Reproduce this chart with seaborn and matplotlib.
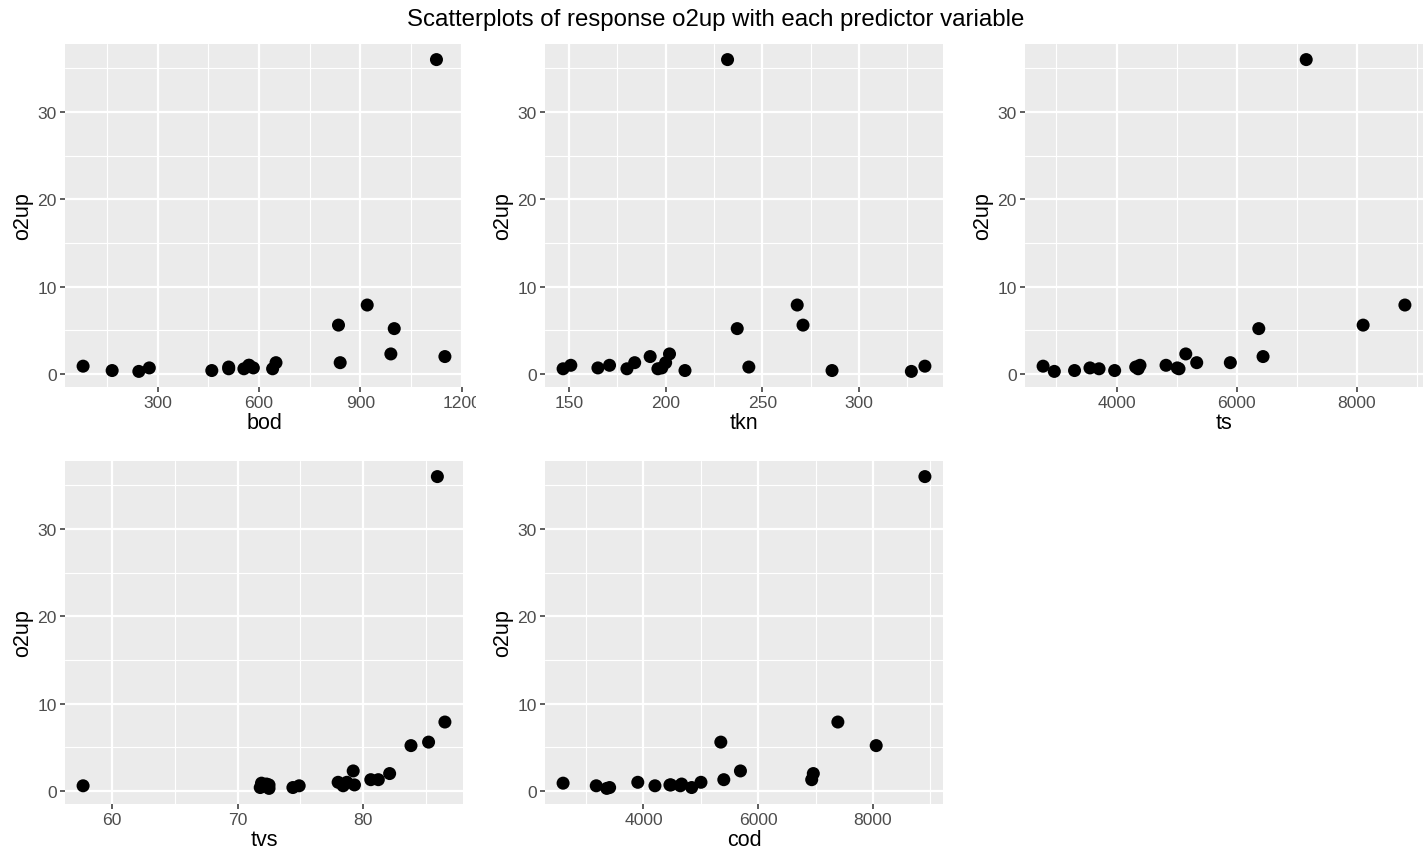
import pandas as pd
import seaborn as sns
import matplotlib.pyplot as plt
from matplotlib.transforms import Bbox, TransformedBbox

# oxygen uptake data
bod = [1125, 920, 835, 1000, 1150, 990, 840, 650, 640, 583,
       570, 570, 510, 555, 460, 275, 510, 165, 244, 79]
tkn = [232, 268, 271, 237, 192, 202, 184, 200, 180, 165,
       151, 171, 243, 147, 286, 198, 196, 210, 327, 334]
ts = [7160, 8804, 8108, 6370, 6441, 5154, 5896, 5336, 5041, 5012,
      4825, 4391, 4320, 3709, 3969, 3558, 4361, 3301, 2964, 2777]
tvs = [85.9, 86.5, 85.2, 83.8, 82.1, 79.2, 81.2, 80.6, 78.4, 79.3,
       78.7, 78.0, 72.3, 74.9, 74.4, 72.5, 57.7, 71.8, 72.5, 71.9]
cod = [8905, 7388, 5348, 8056, 6960, 5690, 6932, 5400, 3177, 4461,
       3901, 5002, 4665, 4642, 4840, 4479, 4200, 3410, 3360, 2599]
o2up = [36.0, 7.9, 5.6, 5.2, 2.0, 2.3, 1.3, 1.3, 0.6, 0.7,
        1.0, 1.0, 0.8, 0.6, 0.4, 0.7, 0.6, 0.4, 0.3, 0.9]

df = pd.DataFrame({'bod': bod, 'tkn': tkn, 'ts': ts, 'tvs': tvs,
                   'cod': cod, 'o2up': o2up})

predictors = ['bod', 'tkn', 'ts', 'tvs', 'cod']
major = {'bod': [300, 600, 900, 1200],
         'tkn': [150, 200, 250, 300],
         'ts': [4000, 6000, 8000],
         'tvs': [60, 70, 80],
         'cod': [4000, 6000, 8000]}
minor = {'bod': [150, 450, 750, 1050],
         'tkn': [175, 225, 275, 325],
         'ts': [3000, 5000, 7000, 9000],
         'tvs': [65, 75, 85],
         'cod': [3000, 5000, 7000, 9000]}

sns.set_theme(style='darkgrid', rc={
    'axes.facecolor': '#EBEBEB',
    'grid.color': 'white',
    'xtick.color': '#333333',
    'ytick.color': '#333333',
})
plt.rcParams['font.family'] = ['Liberation Sans', 'DejaVu Sans']

W, H = 1428, 854
fig = plt.figure(figsize=(W / 100, H / 100), dpi=100)

lefts = [65, 545, 1025]
tops = [45, 462]
pw, ph = 398, 343

def expand(vals):
    lo, hi = min(vals), max(vals)
    pad = (hi - lo) * 0.05
    return lo - pad, hi + pad

for i, var in enumerate(predictors):
    r, c = divmod(i, 3)
    ax = fig.add_axes([lefts[c] / W, 1 - (tops[r] + ph) / H, pw / W, ph / H])
    sns.scatterplot(data=df, x=var, y='o2up', ax=ax, color='black',
                    s=88, edgecolor='none', linewidth=0)
    ax.set_xlim(expand(df[var]))
    ax.set_ylim(expand(df['o2up']))
    ax.set_xticks(major[var])
    ax.set_xticks(minor[var], minor=True)
    ax.set_yticks([0, 10, 20, 30])
    ax.set_yticks([5, 15, 25, 35], minor=True)
    ax.grid(which='major', color='white', linewidth=1.6)
    ax.grid(which='minor', color='white', linewidth=0.8)
    ax.tick_params(which='major', length=3.5, width=1.1, color='#333333',
                   labelcolor='#4D4D4D', labelsize=12.6, pad=2.5,
                   bottom=True, left=True)
    ax.tick_params(which='minor', length=0)
    for sp in ax.spines.values():
        sp.set_visible(False)
    ax.set_xlabel(var, fontsize=15.5, color='black', labelpad=1)
    ax.set_ylabel('o2up', fontsize=15.5, color='black', labelpad=3)
    ax.set_axisbelow(True)
    if var == 'bod':
        clip = TransformedBbox(Bbox([[0, 0], [476 / W, 1]]), fig.transFigure)
        for lab in ax.get_xticklabels():
            lab.set_clip_on(True)
            lab.set_clip_box(clip)

fig.suptitle('Scatterplots of response o2up with each predictor variable',
             fontsize=17.3, color='black', x=0.501, y=1 - 20 / H, va='center')

plt.savefig('out.png', dpi=100)
